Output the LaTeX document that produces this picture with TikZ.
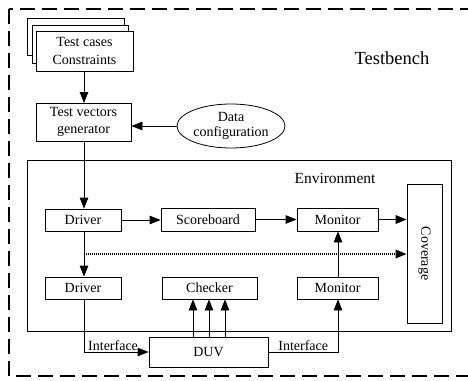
\documentclass[tikz,border=0pt]{standalone}
\usepackage{fontspec}
\setmainfont{Liberation Serif}
\usetikzlibrary{arrows.meta,shapes.geometric}

\tikzset{
  box/.style={draw, line width=0.8pt, fill=white, font=\fontsize{14}{15.5}\selectfont, inner sep=0pt, align=center},
  arr/.style={line width=0.8pt, -{Triangle[length=11pt,width=8.5pt]}},
  dotarr/.style={line width=1.8pt, dash pattern=on 1.2pt off 0.8pt, -{Triangle[length=11pt,width=8.5pt]}},
  lbl/.style={font=\fontsize{14}{15.5}\selectfont, inner sep=1pt}
}

\begin{document}
\begin{tikzpicture}[x=1pt, y=-1pt]
\useasboundingbox (0,0) rectangle (468,380);

% testbench frame
\draw[line width=2pt, dash pattern=on 15pt off 7pt] (9,9) rectangle (469,376);
\node[font=\fontsize{18.5}{20}\selectfont] (tb) at (392,58) {Testbench};

% stacked test case sheets
\draw[line width=0.8pt, fill=white] (27,18) rectangle (124,55);
\draw[line width=0.8pt, fill=white] (32,25) rectangle (128,63);
\node[box, minimum width=97pt, minimum height=40pt] (tc) at (84.5,51) {Test cases\\[3pt]Constraints};

\node[box, minimum width=95pt, minimum height=38pt] (gen) at (83.5,122) {Test vectors\\[2pt]generator};
\node[box, ellipse, minimum width=108pt, minimum height=44pt] (cfg) at (231,126) {Data\\configuration};

% environment
\draw[line width=0.8pt] (27,160) rectangle (451,331);
\node[lbl, font=\fontsize{15.5}{17}\selectfont] (env) at (335,178) {Environment};

\node[box, minimum width=76pt, minimum height=22pt] (drv1) at (83,220) {Driver};
\node[box, minimum width=94pt, minimum height=23pt] (sb) at (208,219.5) {Scoreboard};
\node[box, minimum width=81pt, minimum height=23pt] (mon1) at (337.5,219.5) {Monitor};
\node[box, minimum width=35pt, minimum height=139pt] (cov) at (424.5,253.5) {};
\node[lbl, rotate=-90] (covt) at (cov.center) {Coverage};

\node[box, minimum width=76pt, minimum height=22pt] (drv2) at (83,288) {Driver};
\node[box, minimum width=95pt, minimum height=22pt] (chk) at (209.5,288) {Checker};
\node[box, minimum width=81pt, minimum height=22pt] (mon2) at (337.5,288) {Monitor};

\node[box, minimum width=119pt, minimum height=30pt] (duv) at (208.5,352) {DUV};

% connectors
\draw[arr] (tc.south -| 84,0) -- (84,103);
\draw[arr] (cfg.west) -- (gen.east |- cfg.west);
\draw[arr] (gen.south -| 84,0) -- (drv1.north -| 84,0);
\draw[arr] (drv1.east) -- (sb.west |- drv1.east);
\draw[arr] (sb.east) -- (mon1.west);
\draw[dotarr] (mon1.east) -- (cov.west |- mon1.east);
\coordinate (tap) at (84,254);
\draw[dotarr] (tap) -- (cov.west |- tap);
\draw[arr] (drv1.south -| 84,0) -- (drv2.north -| 84,0);
\draw[arr] (drv2.south -| 84,0) -- (84,352) -- node[lbl, above, pos=0.45] {Interface} (duv.west);
\draw[arr] (duv.east) -- node[lbl, above, pos=0.5] {Interface} (338,352) -- (mon2.south -| 338,0);
\draw[arr] (mon2.north -| 338,0) -- (mon1.south -| 338,0);
\foreach \x in {193,209,225}
  \draw[arr] (duv.north -| \x,0) -- (chk.south -| \x,0);
\end{tikzpicture}
\end{document}
